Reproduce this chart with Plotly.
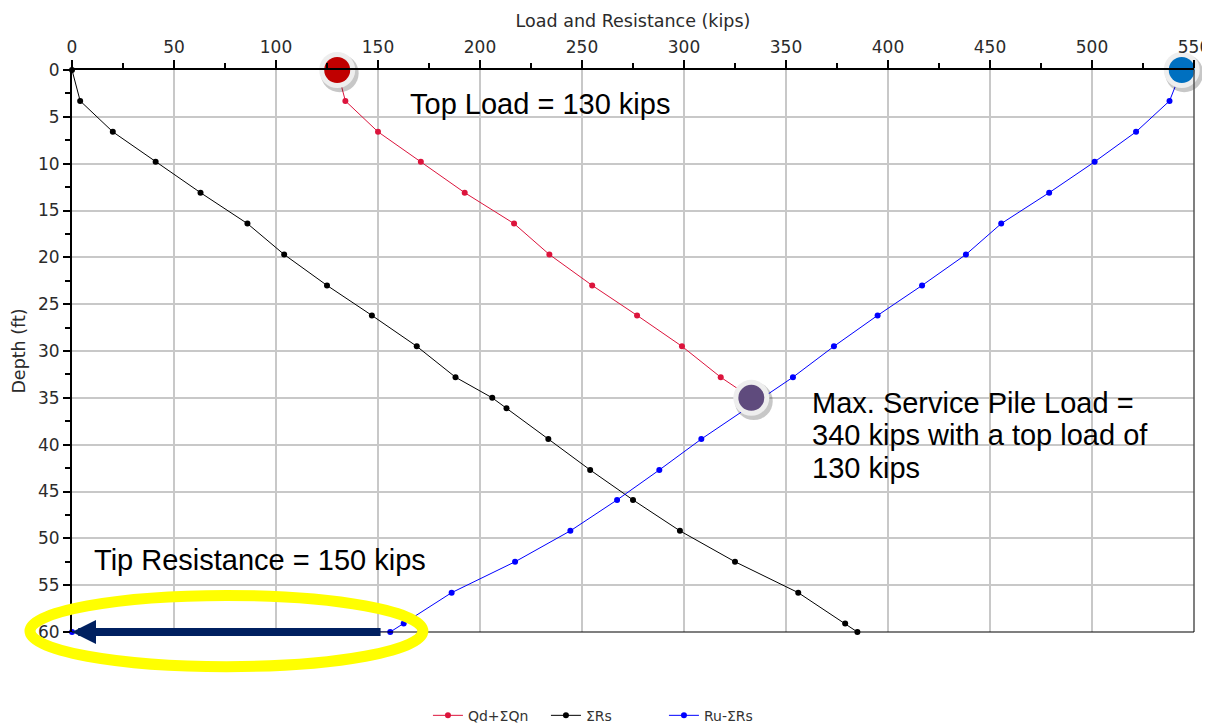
import plotly.graph_objects as go

# ---- data ----
red_depth = [0, 3.3, 6.6, 9.8, 13.1, 16.4, 19.7, 23.0, 26.2, 29.5, 32.8, 35.0]
red_load = [130, 134, 150, 171, 192.5, 216.7, 234, 255, 277, 299, 318, 333]

black_depth = [0, 3.3, 6.6, 9.8, 13.1, 16.4, 19.7, 23.0, 26.2, 29.5, 32.8, 35.0, 36.1,
               39.4, 42.7, 45.9, 49.2, 52.5, 55.8, 59.1, 60]
black_load = [0, 4, 20, 41, 63, 86, 104, 125, 147, 169, 188, 206, 213,
              233.5, 254, 275, 298, 325, 356, 379, 385]

blue_depth = [0, 3.3, 6.6, 9.8, 13.1, 16.4, 19.7, 23.0, 26.2, 29.5, 32.8,
              39.4, 42.7, 45.9, 49.2, 52.5, 55.8, 59.1, 60, 60]
blue_load = [544, 538, 521.6, 501.3, 479, 455.5, 438.2, 416.7, 394.9, 373.5, 353.4,
             308.5, 287.9, 267.2, 244.3, 217.2, 186.1, 162.6, 156, 0]

series_names = ["Qd+ΣQn", "ΣRs", "Ru-ΣRs"]
series_colors = ["#DC143C", "#000000", "#0000FF"]

hl_load = [130, 544, 333]
hl_depth = [0, 0, 35.0]
hl_colors = ["#C00000", "#0070C0", "#5F4B7D"]

x_ticks = list(range(0, 551, 50))
y_ticks = list(range(0, 61, 5))
X_MAX, Y_MAX = 550, 60

fig = go.Figure()
for xs, ys, name, col in [(red_load, red_depth, series_names[0], series_colors[0]),
                          (black_load, black_depth, series_names[1], series_colors[1]),
                          (blue_load, blue_depth, series_names[2], series_colors[2])]:
    fig.add_trace(go.Scatter(x=xs, y=ys, name=name, mode="lines+markers",
                             line=dict(color=col, width=1),
                             marker=dict(color=col, size=6),
                             cliponaxis=False))

# highlight circles (shadow, ring, fill)
fig.add_trace(go.Scatter(x=[v + 1.2 for v in hl_load], y=[d + 0.35 for d in hl_depth],
                         mode="markers", showlegend=False, hoverinfo="skip", cliponaxis=False,
                         marker=dict(size=38, color="rgba(0,0,0,0.22)", line=dict(width=0))))
fig.add_trace(go.Scatter(x=hl_load, y=hl_depth, mode="markers", showlegend=False,
                         hoverinfo="skip", cliponaxis=False,
                         marker=dict(size=36, color="#EEEEEE", line=dict(width=0))))
fig.add_trace(go.Scatter(x=hl_load, y=hl_depth, mode="markers", showlegend=False,
                         hoverinfo="skip", cliponaxis=False,
                         marker=dict(size=26, color=hl_colors, line=dict(width=0))))

tick_font = dict(family="DejaVu Sans", size=17, color="#2b2b2b")
title_font = dict(family="DejaVu Sans", size=17.5, color="#2b2b2b")
fig.update_layout(
    width=1210, height=726,
    margin=dict(l=64, r=24, t=62, b=102, autoexpand=False),
    paper_bgcolor="white", plot_bgcolor="white",
    font=dict(family="DejaVu Sans", size=13, color="#333333"),
    xaxis=dict(side="top", range=[0, X_MAX], tickvals=x_ticks, automargin=False,
               showgrid=True, gridcolor="#C8C8C8", gridwidth=1.5,
               showline=True, linecolor="black", linewidth=2,
               ticks="outside", ticklen=8, tickwidth=2, tickcolor="black",
               minor=dict(dtick=25, ticks="outside", ticklen=5, tickwidth=2,
                          tickcolor="black", showgrid=False),
               tickfont=tick_font, zeroline=False,
               title=dict(text="Load and Resistance (kips)", font=title_font, standoff=5)),
    yaxis=dict(range=[Y_MAX, 0], tickvals=y_ticks, automargin=False,
               showgrid=True, gridcolor="#C8C8C8", gridwidth=1.5,
               showline=True, linecolor="black", linewidth=2,
               ticks="outside", ticklen=7, tickwidth=2, tickcolor="black",
               minor=dict(dtick=2.5, ticks="outside", ticklen=5, tickwidth=2,
                          tickcolor="black", showgrid=False),
               tickfont=tick_font, zeroline=False,
               title=dict(text="Depth (ft)", font=title_font, standoff=8)),
    legend=dict(orientation="h", x=0.475, xanchor="center", y=-0.149, yanchor="middle",
                font=dict(family="DejaVu Sans", size=14, color="#333333"),
                entrywidth=73, bgcolor="rgba(0,0,0,0)"),
    showlegend=True,
)

# right and bottom borders
fig.add_shape(type="line", xref="x domain", yref="y domain", x0=1, x1=1, y0=0, y1=1,
              line=dict(color="#555555", width=1.5), layer="above")
fig.add_shape(type="line", xref="x domain", yref="y domain", x0=0, x1=1, y0=0, y1=0,
              line=dict(color="black", width=1.2), layer="above")

# yellow ellipse around the tip
ell_x = [-20.6, 172]
ell_d = [56.1, 63.7]
fig.add_shape(type="circle", xref="x domain", yref="y domain",
              x0=ell_x[0] / X_MAX, x1=ell_x[1] / X_MAX,
              y0=1 - ell_d[1] / Y_MAX, y1=1 - ell_d[0] / Y_MAX,
              line=dict(color="#FFFF00", width=11), layer="above")

# arrow for tip resistance
fig.add_annotation(x=0, y=60, ax=152, ay=60, xref="x", yref="y", axref="x", ayref="y",
                   showarrow=True, arrowhead=2, arrowsize=0.6, arrowwidth=8,
                   arrowcolor="#002060", text="")

txt_font = dict(family="Liberation Sans, Arial", size=29, color="black")
fig.add_annotation(x=164.7, y=3.6, xref="x", yref="y", text="Top Load = 130 kips",
                   showarrow=False, xanchor="left", yanchor="middle", font=txt_font)
fig.add_annotation(x=9.8, y=52.3, xref="x", yref="y", text="Tip Resistance = 150 kips",
                   showarrow=False, xanchor="left", yanchor="middle", font=txt_font)
for i, line in enumerate(["Max. Service Pile Load =", "340 kips with a top load of", "130 kips"]):
    fig.add_annotation(x=361.8, y=35.5 + i * 3.52, xref="x", yref="y", text=line,
                       showarrow=False, xanchor="left", yanchor="middle", font=txt_font)

fig.write_html("out.html")
